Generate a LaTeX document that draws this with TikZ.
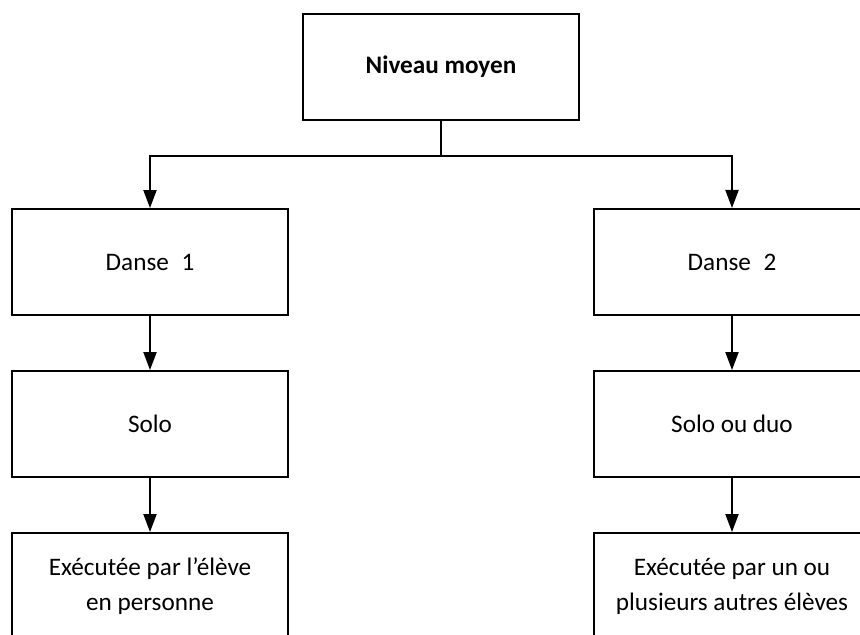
\documentclass[tikz,border=0pt]{standalone}
\usepackage{fontspec}
\setmainfont{Carlito}
\usepackage{tikz}
\usetikzlibrary{matrix,arrows.meta}
\newcommand{\deuxlignes}[2]{\begin{tabular}{@{}c@{}}#1\\#2\end{tabular}}

\begin{document}
\begin{tikzpicture}[>={Triangle[length=9pt,width=6.5pt]}, line width=1pt]
  \useasboundingbox (0,0) rectangle (430pt,-317.5pt);
  \matrix (m) [matrix of nodes, row sep=27pt, column sep=6.5pt,
    nodes={draw, minimum width=138pt, minimum height=53pt, font=\fontsize{12.6}{17.5}\selectfont},
    matrix anchor=m-1-2.center] at (220.5pt,-33.5pt)
  {
    & \textbf{Niveau moyen} & \\[16.5pt]
    Danse\enspace 1 & & Danse\enspace 2 \\
    Solo & & Solo ou duo \\
    \deuxlignes{Exécutée par l'élève}{en personne} & & \deuxlignes{Exécutée par un ou}{plusieurs autres élèves} \\
};
  \coordinate (split) at ([yshift=-17.5pt]m-1-2.south);
  \draw (m-1-2.south) -- (split);
  \path[->]
  (split) edge[to path={-| (\tikztotarget)}] (m-2-1.north)
          edge[to path={-| (\tikztotarget)}] (m-2-3.north)
  (m-2-1) edge (m-3-1)
  (m-3-1) edge (m-4-1)
  (m-2-3) edge (m-3-3)
  (m-3-3) edge (m-4-3)
              ;
  \end{tikzpicture}
\end{document}
